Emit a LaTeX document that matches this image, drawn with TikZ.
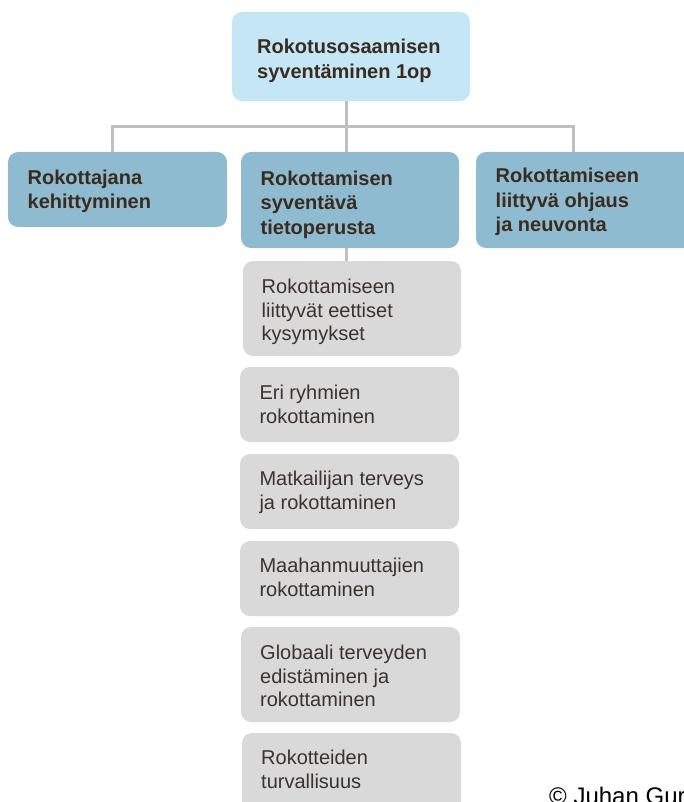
\documentclass[tikz,border=0pt]{standalone}
\usepackage{fontspec}
\setmainfont{Liberation Sans}
\definecolor{topfill}{HTML}{C5E7F5}
\definecolor{midfill}{HTML}{8FBBD0}
\definecolor{grayfill}{HTML}{D9D9D9}
\definecolor{lineclr}{HTML}{BFBFBF}
\definecolor{boldtxt}{HTML}{3A2B20}
\definecolor{regtxt}{HTML}{3A3330}
\begin{document}
\begin{tikzpicture}[x=1pt,y=-1pt,
  box/.style={rectangle, rounded corners=10pt, draw=none, inner sep=0pt},
  topbox/.style={box, fill=topfill},
  bluebox/.style={box, fill=midfill},
  graybox/.style={box, fill=grayfill},
  conn/.style={draw=lineclr, line width=3pt},
  btxt/.style={anchor=base west, align=left, inner sep=0pt, text=boldtxt, font=\fontsize{20}{24.5}\selectfont\bfseries},
  rtxt/.style={anchor=base west, align=left, inner sep=0pt, text=regtxt, font=\fontsize{20}{23.7}\selectfont}]
\clip (0,0) rectangle (684,802);
\useasboundingbox (0,0) rectangle (684,802);

% boxes
\node[topbox, minimum width=238pt, minimum height=89pt] (T) at (351,56.5) {};
\node[bluebox, minimum width=219pt, minimum height=75pt] (L) at (117.5,189.5) {};
\node[bluebox, minimum width=218pt, minimum height=96pt] (M) at (350,200) {};
\node[bluebox, minimum width=224pt, minimum height=96pt] (R) at (588,200) {};
\node[graybox, minimum width=218pt, minimum height=95pt] (G1) at (352,308.5) {};
\node[graybox, minimum width=219pt, minimum height=75pt] (G2) at (349.5,404.5) {};
\node[graybox, minimum width=219pt, minimum height=75pt] (G3) at (349.5,491.5) {};
\node[graybox, minimum width=219pt, minimum height=75pt] (G4) at (349.5,578.5) {};
\node[graybox, minimum width=219pt, minimum height=95pt] (G5) at (350.5,674.5) {};
\node[graybox, minimum width=219pt, minimum height=97pt] (G6) at (351.5,781.5) {};

% connectors
\coordinate (hub) at (346,127);
\draw[conn] (hub |- T.south) -- (hub);
\draw[conn] ([xshift=-5.5pt]L.north) |- (hub) -| ([xshift=-15pt]R.north);
\draw[conn] (hub) -- (hub |- M.north);
\draw[conn] (hub |- M.south) -- (hub |- G1.north);

% texts (anchor = baseline of the last line)
\node[btxt] (tT) at (257,78.3) {Rokotusosaamisen\\syventäminen 1op};
\node[btxt] (tL) at (27.5,208.5) {Rokottajana\\kehittyminen};
\node[btxt] (tM) at (260.5,234) {Rokottamisen\\syventävä\\tietoperusta};
\node[btxt] (tR) at (495.5,231.5) {Rokottamiseen\\liittyvä ohjaus\\ja neuvonta};
\node[rtxt] (t1) at (261.5,340.7) {Rokottamiseen\\liittyvät eettiset\\kysymykset};
\node[rtxt] (t2) at (259.3,423.5) {Eri ryhmien\\rokottaminen};
\node[rtxt] (t3) at (259.3,509.5) {Matkailijan terveys\\ja rokottaminen};
\node[rtxt] (t4) at (259.3,596) {Maahanmuuttajien\\rokottaminen};
\node[rtxt] (t5) at (260,706.7) {Globaali terveyden\\edistäminen ja\\rokottaminen};
\node[rtxt] (t6) at (261,788.5) {Rokotteiden\\turvallisuus};
\node[anchor=base west, inner sep=0pt, text=black, font=\fontsize{24}{28}\selectfont] (copy) at (549,804.5) {© Juhan Gur};
\end{tikzpicture}
\end{document}
